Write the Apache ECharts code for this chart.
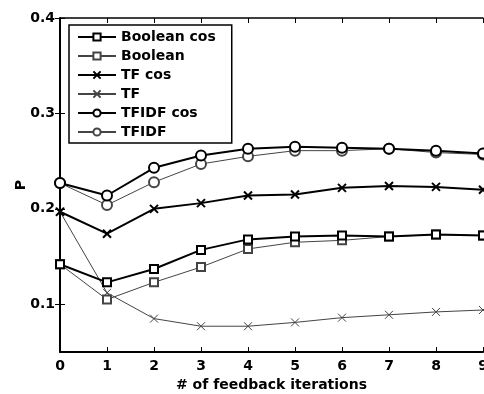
<!DOCTYPE html>
<html>
<head>
<meta charset="utf-8">
<script src="https://cdn.jsdelivr.net/npm/echarts@6/dist/echarts.min.js"></script>
<style>html,body{margin:0;padding:0;background:#fff}#c{width:484px;height:394px}</style>
</head>
<body>
<div id="c"></div>
<script>
const iterations = [0, 1, 2, 3, 4, 5, 6, 7, 8, 9];
const booleanCos = [0.142, 0.123, 0.137, 0.157, 0.168, 0.171, 0.172, 0.171, 0.173, 0.172];
const booleanP   = [0.142, 0.105, 0.123, 0.139, 0.158, 0.165, 0.167, 0.171, 0.173, 0.172];
const tfCos      = [0.197, 0.174, 0.200, 0.206, 0.214, 0.215, 0.222, 0.224, 0.223, 0.220];
const tfP        = [0.197, 0.112, 0.085, 0.077, 0.077, 0.081, 0.086, 0.089, 0.092, 0.094];
const tfidfCos   = [0.227, 0.214, 0.243, 0.256, 0.263, 0.265, 0.264, 0.263, 0.261, 0.258];
const tfidfP     = [0.227, 0.204, 0.228, 0.247, 0.255, 0.261, 0.261, 0.263, 0.259, 0.257];
const yTicks = [0.1, 0.2, 0.3, 0.4];
const xTicks = [0, 1, 2, 3, 4, 5, 6, 7, 8, 9];

const FONT = 'DejaVu Sans';
const CROSS = 'path://M0,0L10,10M10,0L0,10';

function pairs(vals) { return iterations.map((x, i) => [x, vals[i]]); }

function mk(name, vals, symbol, thick, size) {
  const col = thick ? '#000' : '#444';
  const isCross = symbol === CROSS;
  return {
    name: name,
    type: 'line',
    data: pairs(vals),
    symbol: symbol,
    symbolSize: size,
    showAllSymbol: true,
    clip: false,
    lineStyle: { color: col, width: thick ? 2 : 1 },
    itemStyle: isCross
      ? { color: 'none', borderColor: col, borderWidth: thick ? 2 : 1 }
      : { color: col, borderColor: col, borderWidth: thick ? 2 : 1 },
    emphasis: { disabled: true },
    z: thick ? 3 : 2
  };
}

const chart = echarts.init(document.getElementById('c'), null, { renderer: 'canvas' });
chart.setOption({
  animation: false,
  backgroundColor: '#fff',
  grid: { left: 60, right: 1, top: 18, bottom: 42, containLabel: false, outerBoundsMode: 'none' },
  legend: {
    orient: 'vertical',
    left: 69, top: 25,
    padding: [5, 16, 4, 8],
    itemWidth: 38, itemHeight: 9, itemGap: 5,
    borderColor: '#000', borderWidth: 1.5,
    backgroundColor: '#fff',
    textStyle: { fontFamily: FONT, fontWeight: 'bold', fontSize: 14, color: '#000' },
    data: ['Boolean cos', 'Boolean', 'TF cos', 'TF', 'TFIDF cos', 'TFIDF']
  },
  xAxis: [{
    type: 'value', min: 0, max: 9, interval: 1, position: 'bottom',
    name: '# of feedback iterations', nameLocation: 'middle', nameGap: 26, nameMoveOverlap: false,
    nameTextStyle: { fontFamily: FONT, fontWeight: 'bold', fontSize: 14, color: '#000' },
    axisLine: { show: true, onZero: false, lineStyle: { color: '#000', width: 2 } },
    axisTick: { show: true, inside: true, length: 5, lineStyle: { color: '#000', width: 1 } },
    axisLabel: { fontFamily: FONT, fontWeight: 'bold', fontSize: 14, color: '#000', margin: 7,
      customValues: xTicks },
    splitLine: { show: false }
  }, {
    type: 'value', min: 0, max: 9, interval: 1, position: 'top',
    axisLine: { show: true, onZero: false, lineStyle: { color: '#000', width: 1.5 } },
    axisTick: { show: true, inside: true, length: 5, lineStyle: { color: '#000', width: 1 } },
    axisLabel: { show: false },
    splitLine: { show: false }
  }],
  yAxis: [{
    type: 'value', min: 0.05, max: 0.4, position: 'left',
    name: 'P', nameLocation: 'middle', nameGap: 32, nameMoveOverlap: false,
    nameTextStyle: { fontFamily: FONT, fontWeight: 'bold', fontSize: 14, color: '#000' },
    axisLine: { show: true, onZero: false, lineStyle: { color: '#000', width: 2 } },
    axisTick: { show: true, inside: true, length: 5, lineStyle: { color: '#000', width: 1 }, customValues: yTicks },
    axisLabel: { fontFamily: FONT, fontWeight: 'bold', fontSize: 14, color: '#000', margin: 5,
      customValues: yTicks, formatter: v => v.toFixed(1) },
    splitLine: { show: false }
  }, {
    type: 'value', min: 0.05, max: 0.4, position: 'right',
    axisLine: { show: false },
    axisTick: { show: true, inside: true, length: 5, lineStyle: { color: '#000', width: 1 }, customValues: yTicks },
    axisLabel: { show: false, customValues: yTicks },
    splitLine: { show: false }
  }],
  series: [
    mk('Boolean cos', booleanCos, 'emptyRect', true, 8),
    mk('Boolean', booleanP, 'emptyRect', false, 8),
    mk('TF cos', tfCos, CROSS, true, 8),
    mk('TF', tfP, CROSS, false, 8),
    mk('TFIDF cos', tfidfCos, 'emptyCircle', true, 10),
    mk('TFIDF', tfidfP, 'emptyCircle', false, 10)
  ]
});
</script>
</body>
</html>
